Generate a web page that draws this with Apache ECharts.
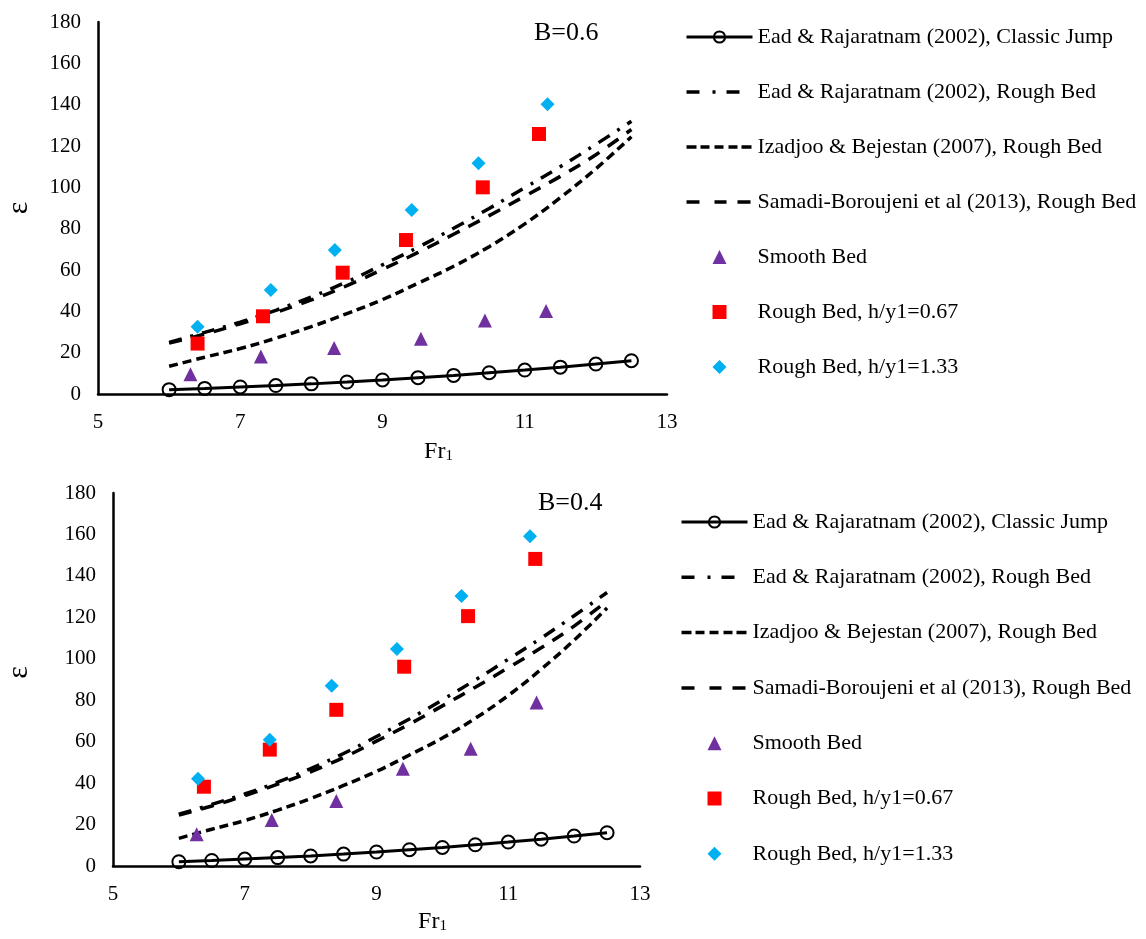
<!DOCTYPE html>
<html>
<head>
<meta charset="utf-8">
<script src="https://cdn.jsdelivr.net/npm/echarts@6/dist/echarts.min.js"></script>
<style>
html, body { margin: 0; padding: 0; background: #fff; }
#chartB06 { position: absolute; left: 0; top: 0; width: 1146px; height: 470px; }
#chartB04 { position: absolute; left: 0; top: 470px; width: 1146px; height: 469px; }
</style>
</head>
<body>
<div id="chartB06"></div>
<div id="chartB04"></div>
<script>
// Froude numbers at which the empirical relations are evaluated
const frCurve = [6, 6.5, 7, 7.5, 8, 8.5, 9, 9.5, 10, 10.5, 11, 11.5, 12, 12.5];
const eadClassic = [2.1, 2.7, 3.4, 4.1, 4.9, 5.8, 6.8, 7.9, 9.0, 10.3, 11.6, 13.0, 14.5, 16.1];
const eadRough = [25, 29.8, 34.8, 40.5, 47, 54.3, 62.5, 71, 80.2, 89.8, 99.8, 110, 120.8, 132];
const izadjooRough = [13.4, 17.8, 22.0, 27.0, 32.6, 38.9, 45.7, 53.6, 61.8, 71.3, 82.3, 95.0, 109, 124.5];
const samadiRough = [24.6, 29, 34, 39.5, 45.5, 52.4, 60.3, 68.5, 77.3, 86.3, 95.7, 105.3, 115.8, 128];

// Measurements, B = 0.6
const b06SmoothFr = [6.30, 7.29, 8.32, 9.54, 10.44, 11.30];
const b06Smooth = [9.5, 18.2, 22.3, 26.7, 35.6, 40.2];
const b06Rough067Fr = [6.40, 7.32, 8.44, 9.33, 10.41, 11.20];
const b06Rough067 = [24.4, 37.6, 58.7, 74.5, 100.0, 125.8];
const b06Rough133Fr = [6.40, 7.43, 8.33, 9.41, 10.35, 11.32];
const b06Rough133 = [32.6, 50.3, 69.7, 89.0, 111.6, 140.2];

// Measurements, B = 0.4
const b04SmoothFr = [6.27, 7.41, 8.39, 9.40, 10.43, 11.43];
const b04Smooth = [15.4, 22.2, 31.4, 47.0, 56.6, 78.9];
const b04Rough067Fr = [6.38, 7.38, 8.39, 9.42, 10.39, 11.41];
const b04Rough067 = [38.3, 56.2, 75.4, 96.2, 120.6, 148.2];
const b04Rough133Fr = [6.29, 7.38, 8.32, 9.31, 10.29, 11.33];
const b04Rough133 = [42.2, 61.0, 87.0, 104.7, 130.3, 159.1];

// Axis ranges
const frAxis = { min: 5, max: 13, step: 2 };
const epsAxis = { min: 0, max: 180, step: 20 };

const names = {
  classic: 'Ead & Rajaratnam (2002), Classic Jump',
  ead: 'Ead & Rajaratnam (2002), Rough Bed',
  izadjoo: 'Izadjoo & Bejestan (2007), Rough Bed',
  samadi: 'Samadi-Boroujeni et al (2013), Rough Bed',
  smooth: 'Smooth Bed',
  r067: 'Rough Bed, h/y1=0.67',
  r133: 'Rough Bed, h/y1=1.33'
};

const COLORS = { smooth: '#7030A0', r067: '#FF0000', r133: '#00B0F0' };
const FONT = 'Liberation Serif';
const pairs = (xs, ys) => xs.map((x, i) => [x, ys[i]]);

// Legend icons drawn in a 66 x 14 box (the leading moves pin the box size)
const BOX = 'path://M0,0M66,14';
const ICONS = {
  ead: BOX + 'M0,5.25h13v3.5h-13zM26,5.25h3v3.5h-3zM40,5.25h13v3.5h-13z',
  izadjoo: BOX + 'M0,5.25h10v3.5h-10zM14,5.25h9v3.5h-9zM28,5.25h9v3.5h-9zM42,5.25h9v3.5h-9zM55,5.25h10v3.5h-10z',
  samadi: BOX + 'M0,5.25h13v3.5h-13zM28,5.25h12v3.5h-12zM51,5.25h13v3.5h-13z',
  triangle: BOX + 'M26,14L33,0L40,14Z',
  rect: BOX + 'M26,0h14v14h-14z',
  diamond: BOX + 'M33,0L40,7L33,14L26,7Z'
};

function buildOption(cfg) {
  const curve = (name, ys, dash) => ({
    name, type: 'line', data: pairs(frCurve, ys), smooth: 0.4,
    symbol: 'none', z: 2,
    lineStyle: { color: '#000', width: 3.5, type: dash, cap: 'butt' }
  });
  const points = (name, xs, ys, symbol, color) => ({
    name, type: 'scatter', data: pairs(xs, ys), symbol, symbolSize: 14, z: 3,
    itemStyle: { color, opacity: 1 }
  });
  const solid = (color) => ({ color, borderWidth: 0, opacity: 1 });
  return {
    animation: false,
    backgroundColor: '#fff',
    title: {
      text: cfg.label, left: cfg.labelLeft, top: cfg.labelTop, padding: 0,
      textStyle: { fontFamily: FONT, fontSize: 26, fontWeight: 'normal', color: '#000' }
    },
    grid: cfg.grid,
    legend: {
      orient: 'vertical', left: cfg.legendLeft, top: cfg.legendTop, padding: 0,
      itemWidth: 66, itemHeight: 14, itemGap: cfg.legendGap,
      selectedMode: false,
      textStyle: { fontFamily: FONT, fontSize: 22, color: '#000' },
      data: [
        { name: names.classic,
          itemStyle: { color: 'rgba(0,0,0,0)', borderColor: '#000', borderWidth: 2 },
          lineStyle: { color: '#000', width: 3 } },
        { name: names.ead, icon: ICONS.ead, itemStyle: solid('#000') },
        { name: names.izadjoo, icon: ICONS.izadjoo, itemStyle: solid('#000') },
        { name: names.samadi, icon: ICONS.samadi, itemStyle: solid('#000') },
        { name: names.smooth, icon: ICONS.triangle, itemStyle: solid(COLORS.smooth) },
        { name: names.r067, icon: ICONS.rect, itemStyle: solid(COLORS.r067) },
        { name: names.r133, icon: ICONS.diamond, itemStyle: solid(COLORS.r133) }
      ]
    },
    xAxis: {
      type: 'value', min: frAxis.min, max: frAxis.max, interval: frAxis.step,
      axisLine: { show: true, lineStyle: { color: '#000', width: 2.5 } },
      axisTick: { show: false },
      splitLine: { show: false },
      axisLabel: { fontFamily: FONT, fontSize: 21, color: '#000', margin: 18 },
      name: '{a|Fr}{b|1}', nameLocation: 'middle', nameGap: cfg.xNameGap,
      nameTextStyle: {
        color: '#000', fontFamily: FONT, padding: [0, 0, 0, 112],
        rich: {
          a: { fontFamily: FONT, fontSize: 24, color: '#000' },
          b: { fontFamily: FONT, fontSize: 15, color: '#000', verticalAlign: 'bottom' }
        }
      }
    },
    yAxis: {
      type: 'value', min: epsAxis.min, max: epsAxis.max, interval: epsAxis.step,
      axisLine: { show: true, lineStyle: { color: '#000', width: 2.5 } },
      axisTick: { show: false },
      splitLine: { show: false },
      axisLabel: { fontFamily: FONT, fontSize: 21, color: '#000', margin: 17 },
      name: 'ε', nameLocation: 'middle', nameGap: cfg.yNameGap,
      nameTextStyle: { fontFamily: FONT, fontSize: 30, color: '#000', padding: cfg.yNamePad }
    },
    series: [
      {
        name: names.classic, type: 'line', data: pairs(frCurve, eadClassic),
        symbol: 'circle', symbolSize: 13, showAllSymbol: true, z: 2,
        itemStyle: { color: 'rgba(0,0,0,0)', borderColor: '#000', borderWidth: 2 },
        lineStyle: { color: '#000', width: 3 }
      },
      curve(names.ead, eadRough, [13, 9, 3, 9]),
      curve(names.izadjoo, izadjooRough, [9, 5]),
      curve(names.samadi, samadiRough, [13, 10]),
      points(names.smooth, cfg.smoothFr, cfg.smooth, 'triangle', COLORS.smooth),
      points(names.r067, cfg.r067Fr, cfg.r067, 'rect', COLORS.r067),
      points(names.r133, cfg.r133Fr, cfg.r133, 'diamond', COLORS.r133)
    ]
  };
}

const chartTop = echarts.init(document.getElementById('chartB06'));
chartTop.setOption(buildOption({
  label: 'B=0.6', labelLeft: 534, labelTop: 20,
  grid: { left: 98, right: 479, top: 22, bottom: 76 },
  legendLeft: 685, legendTop: 26, legendGap: 33,
  xNameGap: 46, yNameGap: 64, yNamePad: [0, 0, 0, 0],
  smoothFr: b06SmoothFr, smooth: b06Smooth,
  r067Fr: b06Rough067Fr, r067: b06Rough067,
  r133Fr: b06Rough133Fr, r133: b06Rough133
}));

const chartBottom = echarts.init(document.getElementById('chartB04'));
chartBottom.setOption(buildOption({
  label: 'B=0.4', labelLeft: 538, labelTop: 20,
  grid: { left: 113, right: 506, top: 23, bottom: 71 },
  legendLeft: 680, legendTop: 41, legendGap: 33.3,
  xNameGap: 43, yNameGap: 79, yNamePad: [0, 0, 0, 14],
  smoothFr: b04SmoothFr, smooth: b04Smooth,
  r067Fr: b04Rough067Fr, r067: b04Rough067,
  r133Fr: b04Rough133Fr, r133: b04Rough133
}));
</script>
</body>
</html>
